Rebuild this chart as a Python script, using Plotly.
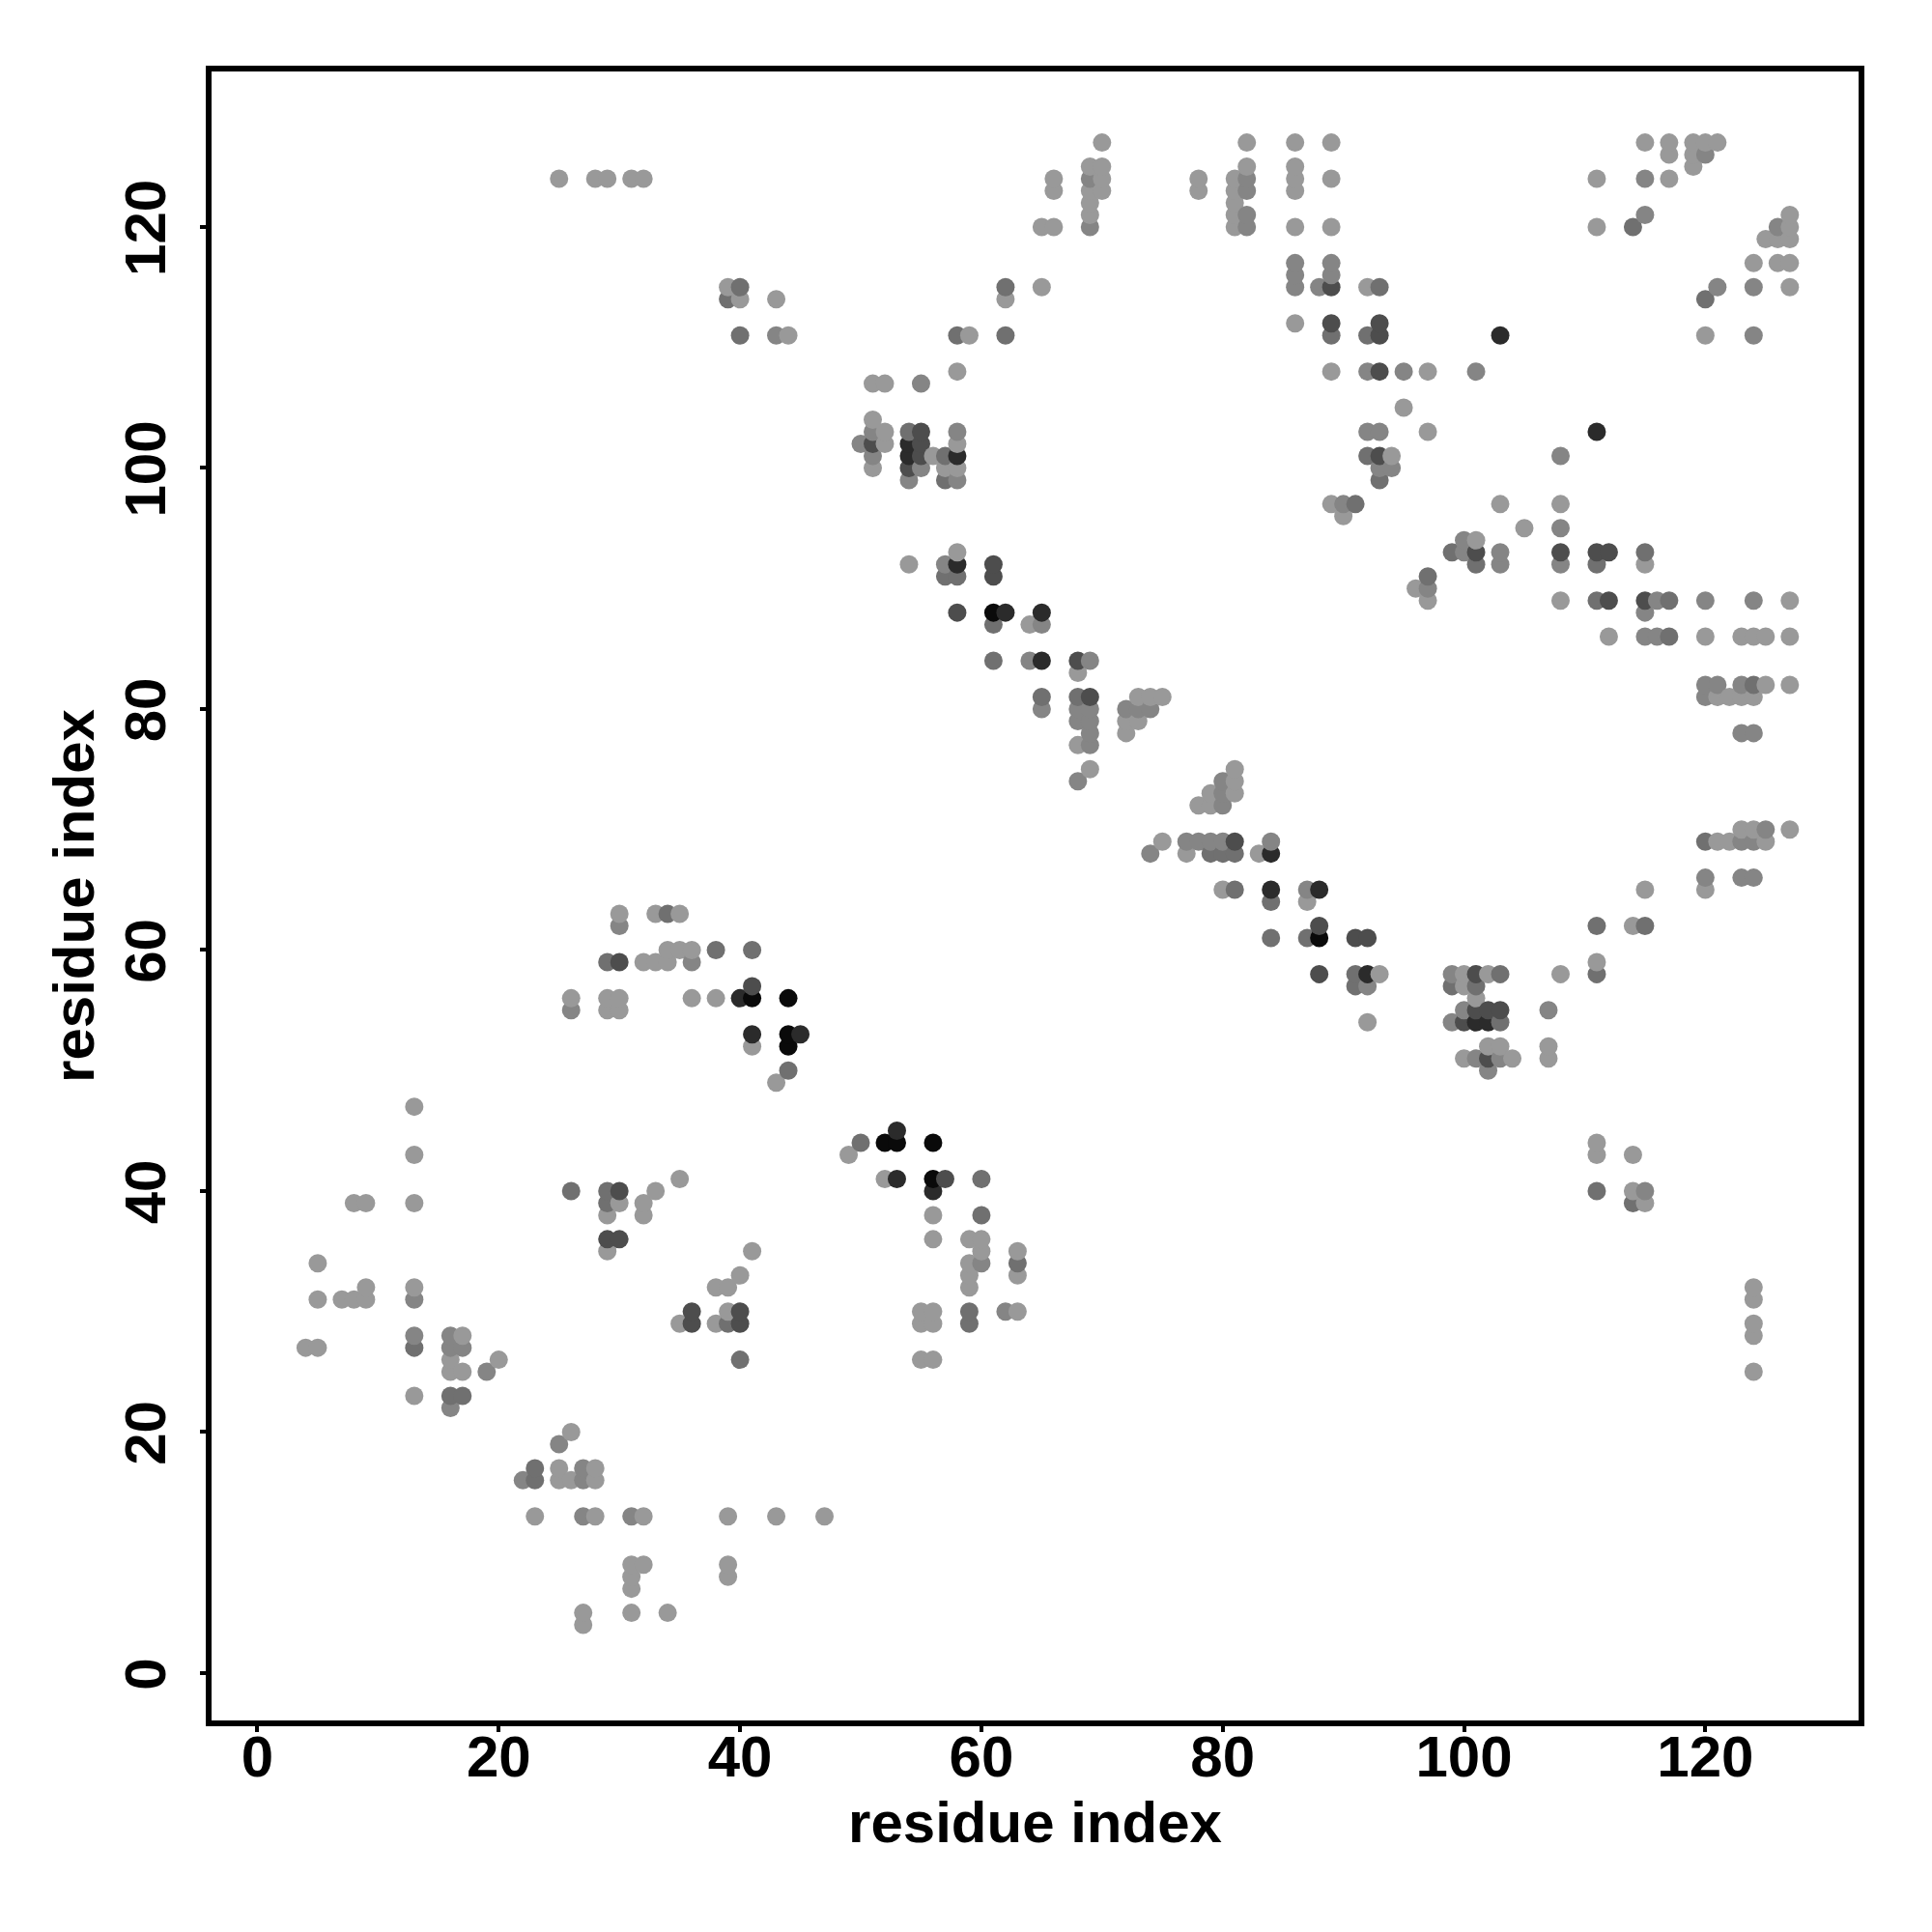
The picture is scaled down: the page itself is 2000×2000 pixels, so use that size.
import plotly.graph_objects as go

# contacts grouped by shade: {residue j (y): [residue i (x), ...]}
light = {
127:[70,82,86,89,115,117,119,120,121],126:[117,119],125:[69,70,82,86,119],
124:[25,28,29,31,32,66,70,78,81,86,89,111,117],123:[66,69,70,78,81,86],122:[69,81],121:[69,81,127],
120:[65,66,81,86,89,111,127],119:[125,126,127],117:[124,126,127],115:[39,65,92,127],114:[40,43,62],
112:[86],111:[44,59,120],108:[58,89,97],107:[51,52],105:[95],104:[51],103:[52,97],102:[52,58],
101:[56,94],100:[51,57,58],97:[89,103,108],96:[90],95:[105],94:[101],93:[58],92:[54,115],90:[96],
89:[97,108,127],87:[64],86:[112,120,123,124,125,127],83:[68],82:[125,127],81:[73,74,75,121,122,123,124],
79:[72,73],78:[72],77:[68],75:[69,81],74:[81],73:[79,81],72:[78,79],70:[123,124,127],
69:[75,121,122,125],68:[77,83],65:[80,115,120],64:[87],63:[30,33,35],62:[114],60:[34,35,36],
59:[32,33,34,111],58:[93,100,102,108],57:[100],56:[26,29,30,36,38,101],55:[29,30],54:[92],
52:[41,102,103,107],51:[100,104,107],49:[43],47:[13],44:[111],43:[13,49,111,114],41:[35,52],
40:[33,114],39:[8,9,13,30,32,115],38:[29,32,56],36:[56,59,60],35:[29,41,60,63],34:[5,59],33:[40,59,63],
32:[9,13,38,39,59,124],31:[5,7,8,9,124],30:[39,55,56,63],29:[35,38,55,56,124],28:[17,124],27:[4,5],
26:[16,20,55,56],25:[16,17,124],23:[13],20:[26],17:[25,28],16:[25,26,28],13:[23,28,32,39,43,47],
9:[31,32,39],8:[31,39],7:[31],5:[27,31,34],4:[27],
}
mid = {
126:[120],124:[69,82,115],123:[82],121:[82,115],120:[69,82,126],117:[86,89],116:[86,89],115:[86,88,121,124],
111:[43,124],108:[92,95,101],107:[55],103:[51,58,92,93],102:[50],101:[51,108],100:[55,93,94],99:[54,58],
97:[90],95:[108],94:[100],93:[100,103],92:[57,103,108],90:[97],89:[116,120,124],88:[115],87:[65],
86:[115,116],84:[64,69],82:[120,121,123],81:[120],80:[65,68,69,72,73,74],79:[68,69],78:[69,123,124],
77:[69],74:[68,80],73:[80],72:[80],70:[125],69:[77,78,79,80,84,123,124],68:[74],66:[120,123,124],
65:[87],62:[30],59:[36],58:[99],57:[92],55:[26,100,107],54:[99],51:[101,103],50:[102],40:[115],34:[60],
31:[13],30:[62],28:[13,16],27:[16,17],25:[19],22:[16],19:[25],17:[27],16:[22,27],13:[27,31],
}
mid_dark = {
120:[114],115:[40,62,93],114:[39,120],111:[40,58,62,89,92],103:[54],101:[57,92],99:[57,93],97:[91],
93:[99,115],92:[101,111],91:[57,58,97],89:[111,117],87:[61],86:[117],84:[61],82:[124],81:[65,68],
69:[120],68:[79,80,81],65:[81],64:[84],63:[34],62:[111,115],61:[84,87],60:[38,41],59:[29],58:[91,103,111],
57:[91,99,101],54:[103],50:[44],44:[50],41:[60],40:[26,29,111],39:[29,114],38:[60],34:[63],30:[59],
29:[39,59],27:[13],26:[40],23:[16,17],17:[23],16:[23],
}
dark = {
115:[89],112:[89,93],111:[93],108:[93],103:[55],102:[51,55],101:[55,93],100:[54],93:[101,108,111,112],
92:[61],91:[61],89:[112,115],88:[58],84:[68],81:[69],69:[81],62:[88],61:[91,92],59:[30],58:[88,101],
57:[41],55:[101,102,103],54:[100],51:[102],41:[57],40:[30],36:[29,30],30:[36,40],29:[36,40],
}
very_dark = {
111:[103],103:[111],102:[54],101:[54,58],92:[58],88:[62,65],84:[65],68:[84],65:[84,88],58:[92],
56:[40],54:[101,102],53:[41,45],45:[53],41:[53],40:[56],
}
black = {
88:[61],61:[88],56:[41,44],53:[44],52:[44],44:[52,53,56],41:[56],
}
shades = [(light, "#999999"), (mid, "#858585"), (mid_dark, "#707070"),
          (dark, "#4d4d4d"), (very_dark, "#2b2b2b"), (black, "#0a0a0a")]
tick_values = [0, 20, 40, 60, 80, 100, 120]
axis_label = "residue index"

points = []
for table, colour in shades:
    for j, xs in table.items():
        for i in xs:
            points.append((i, j, colour))
points.sort(key=lambda p: (p[0], p[1]))

fig = go.Figure(go.Scatter(
    x=[p[0] for p in points], y=[p[1] for p in points], mode="markers",
    marker=dict(size=19, color=[p[2] for p in points], line=dict(width=0)),
    showlegend=False, cliponaxis=True))

font = dict(family="Liberation Sans, Arial, sans-serif", size=60, color="black", weight="bold")
common = dict(
    tickmode="array", tickvals=tick_values, ticks="outside", ticklen=6, tickwidth=4,
    tickcolor="black", showgrid=False, zeroline=False, showline=True, linecolor="black",
    linewidth=6, mirror=True, tickfont=font, automargin=True,
)
fig.update_xaxes(range=[-3.80, 132.7], ticklabelstandoff=-26,
                 title=dict(text=axis_label, font=font, standoff=16), **common)
fig.update_yaxes(range=[-3.93, 132.9], tickangle=-90, ticklabelstandoff=12, ticklabelshift=10,
                 title=dict(text=axis_label, font=font, standoff=2), **common)
fig.update_layout(width=2000, height=2000, autosize=False, paper_bgcolor="white", plot_bgcolor="white",
                  margin=dict(l=211, r=84, t=66, b=227, autoexpand=True))
fig.write_html("out.html")
